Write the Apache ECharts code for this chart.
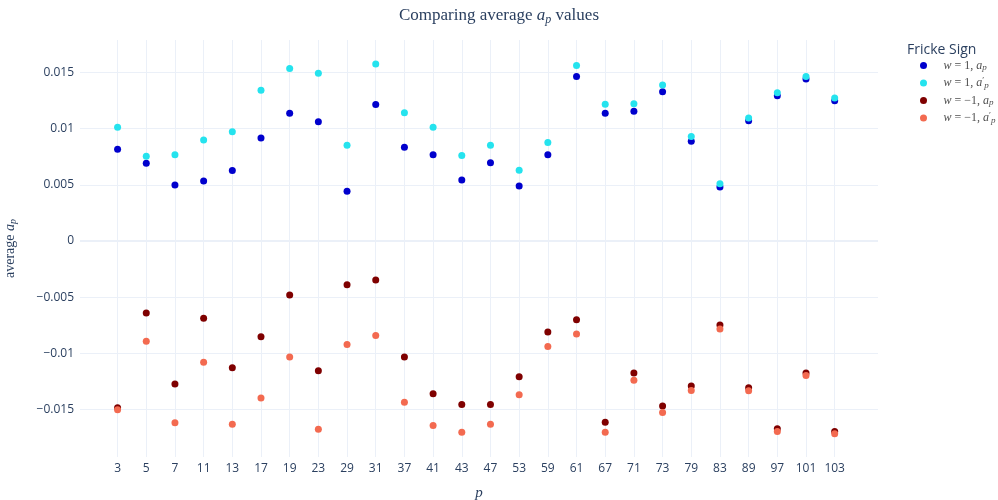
<!DOCTYPE html>
<html>
<head>
<meta charset="utf-8">
<script src="https://cdn.jsdelivr.net/npm/echarts@6/dist/echarts.min.js"></script>
<style>
  html, body { margin: 0; padding: 0; background: #fff; }
  #chart { width: 998px; height: 500px; }
</style>
</head>
<body>
<div id="chart"></div>
<script>
// Primes p on the horizontal axis
const primes = ['3','5','7','11','13','17','19','23','29','31','37','41','43','47','53','59','61','67','71','73','79','83','89','97','101','103'];

// Average a_p and a'_p for each Fricke sign
const plusAp = [0.00817,0.00692,0.00499,0.00534,0.00626,0.00915,0.01137,0.01060,0.00443,0.01214,0.00834,0.00766,0.00543,0.00697,0.00490,0.00766,0.01463,0.01137,0.01155,0.01327,0.00888,0.00481,0.01069,0.01291,0.01440,0.01247];
const plusApPrime = [0.01012,0.00754,0.00766,0.00899,0.00971,0.01342,0.01534,0.01493,0.00852,0.01574,0.01140,0.01012,0.00760,0.00852,0.00630,0.00875,0.01561,0.01217,0.01220,0.01387,0.00929,0.00510,0.01095,0.01318,0.01463,0.01271];
const minusAp = [-0.01484,-0.00641,-0.01273,-0.00688,-0.01128,-0.00852,-0.00481,-0.01155,-0.00389,-0.00347,-0.01033,-0.01360,-0.01454,-0.01454,-0.01208,-0.00810,-0.00701,-0.01612,-0.01175,-0.01469,-0.01291,-0.00748,-0.01306,-0.01671,-0.01175,-0.01695];
const minusApPrime = [-0.01502,-0.00893,-0.01618,-0.01080,-0.01630,-0.01398,-0.01033,-0.01674,-0.00920,-0.00840,-0.01434,-0.01641,-0.01701,-0.01630,-0.01369,-0.00938,-0.00828,-0.01701,-0.01240,-0.01525,-0.01330,-0.00784,-0.01333,-0.01695,-0.01196,-0.01716];

// Tick values on the vertical axis
const yTicks = [-0.015,-0.01,-0.005,0,0.005,0.01,0.015];

const seriesNames = ['w = 1, a_p', "w = 1, a'_p", 'w = -1, a_p', "w = -1, a'_p"];
const seriesData = [plusAp, plusApPrime, minusAp, minusApPrime];
const seriesColors = ['#0000cd', '#25e3ee', '#7f0000', '#f36a50'];
const legendRich = {
  'w = 1, a_p': '{i|w} = 1, {i|a}{s|p}',
  "w = 1, a'_p": "{i|w} = 1, {i|a}{pr|′}{s|p}",
  'w = -1, a_p': '{i|w} = −1, {i|a}{s|p}',
  "w = -1, a'_p": "{i|w} = −1, {i|a}{pr|′}{s|p}"
};

const serif = '"Liberation Serif", "DejaVu Serif", serif';
const sans = '"Open Sans", "Noto Sans", sans-serif';
const ink = '#2a3f5f';
const legendInk = '#505050';
const gridColor = '#ebf0f8';

const chart = echarts.init(document.getElementById('chart'), null, { renderer: 'canvas' });

const series = seriesData.map((vals, k) => ({
  name: seriesNames[k],
  type: 'scatter',
  symbol: 'circle',
  symbolSize: 7,
  itemStyle: { color: seriesColors[k], opacity: 1 },
  data: vals.map((v, i) => [i, v]),
  z: 3 + k
}));
// zero line
series[0].markLine = {
  silent: true,
  symbol: 'none',
  label: { show: false },
  lineStyle: { color: gridColor, width: 2, type: 'solid' },
  data: [{ yAxis: 0 }],
  z: 1
};

chart.setOption({
  backgroundColor: '#ffffff',
  animation: false,
  title: [
    {
      text: 'Comparing average {i|a}{s|p} values',
      left: 'center',
      top: 1,
      textStyle: {
        fontFamily: serif, fontSize: 17, fontWeight: 'normal', color: ink,
        rich: {
          i: { fontFamily: serif, fontSize: 17, fontStyle: 'italic', color: ink },
          s: { fontFamily: serif, fontSize: 12, fontStyle: 'italic', color: ink, padding: [8, 0, 0, 0] }
        }
      }
    },
    {
      text: 'Fricke Sign',
      left: 902,
      top: 38,
      textStyle: { fontFamily: sans, fontSize: 14, fontWeight: 'normal', color: ink }
    }
  ],
  legend: {
    orient: 'vertical',
    left: 915,
    top: 53,
    itemWidth: 30,
    itemHeight: 7,
    itemGap: 2.5,
    icon: 'circle',
    data: seriesNames,
    formatter: name => legendRich[name],
    textStyle: {
      fontFamily: serif, fontSize: 12, color: legendInk, lineHeight: 15,
      rich: {
        i: { fontFamily: serif, fontSize: 12, fontStyle: 'italic', color: legendInk },
        pr: { fontFamily: serif, fontSize: 9, color: legendInk, padding: [0, 0, 4, 0] },
        s: { fontFamily: serif, fontSize: 9, fontStyle: 'italic', color: legendInk, padding: [5, 0, 0, 0] }
      }
    }
  },
  grid: { left: 80, right: 120, top: 40, bottom: 43, outerBoundsMode: 'none' },
  xAxis: {
    type: 'value',
    min: -1.31,
    max: 26.51,
    name: 'p',
    nameLocation: 'middle',
    nameGap: 29,
    nameTextStyle: { fontFamily: serif, fontSize: 15, fontStyle: 'italic', color: ink },
    axisLine: { show: false },
    axisTick: { show: false, customValues: primes.map((_, i) => i) },
    axisLabel: {
      customValues: primes.map((_, i) => i),
      formatter: v => primes[Math.round(v)],
      fontFamily: sans, fontSize: 12, color: ink, margin: 6
    },
    splitLine: { show: true, lineStyle: { color: gridColor, width: 1 } }
  },
  yAxis: {
    type: 'value',
    min: -0.01922,
    max: 0.01788,
    name: 'average {i|a}{s|p}',
    nameLocation: 'middle',
    nameRotate: 90,
    nameGap: 62,
    nameTextStyle: {
      fontFamily: serif, fontSize: 14, color: ink,
      rich: {
        i: { fontFamily: serif, fontSize: 14, fontStyle: 'italic', color: ink },
        s: { fontFamily: serif, fontSize: 10, fontStyle: 'italic', color: ink, padding: [6, 0, 0, 0] }
      }
    },
    axisLine: { show: false },
    axisTick: { show: false, customValues: yTicks },
    axisLabel: {
      customValues: yTicks,
      formatter: v => (Math.abs(v) < 1e-12 ? '0' : String(+v.toFixed(3)).replace('-', '−')),
      fontFamily: sans, fontSize: 12, color: ink, margin: 6
    },
    splitLine: { show: true, lineStyle: { color: gridColor, width: 1 } }
  },
  series: series
});
</script>
</body>
</html>
